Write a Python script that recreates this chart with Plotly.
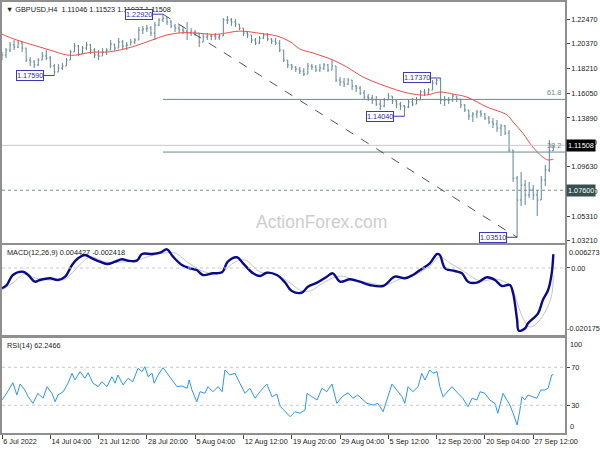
import plotly.graph_objects as go

# ---------------- data ----------------
date_labels = ["6 Jul 2022", "14 Jul 04:00", "21 Jul 12:00", "28 Jul 20:00", "5 Aug 04:00",
               "12 Aug 12:00", "19 Aug 20:00", "29 Aug 04:00", "5 Sep 12:00", "12 Sep 20:00",
               "20 Sep 04:00", "27 Sep 12:00"]
label_bars = [0, 12, 24, 36, 48, 60, 72, 84, 96, 108, 120, 132]

highs = [
    1.1963, 1.1997, 1.2050, 1.2067, 1.2067, 1.2050, 1.1997, 1.1919, 1.1893, 1.1910,
    1.1963, 1.1980, 1.1928, 1.1858, 1.1858, 1.1867, 1.1910, 1.1980, 1.2041, 1.2024,
    1.2015, 1.2050, 1.2032, 1.1997, 1.1980, 1.1997, 1.1997, 1.2067, 1.2032, 1.2084,
    1.2067, 1.2050, 1.2076, 1.2084, 1.2180, 1.2189, 1.2198, 1.2189, 1.2224, 1.2258,
    1.2292, 1.2267, 1.2241, 1.2206, 1.2198, 1.2180, 1.2224, 1.2171, 1.2154, 1.2128,
    1.2119, 1.2128, 1.2119, 1.2128, 1.2119, 1.2258, 1.2276, 1.2258, 1.2250, 1.2206,
    1.2171, 1.2145, 1.2111, 1.2084, 1.2102, 1.2128, 1.2128, 1.2084, 1.2084, 1.2067,
    1.1980, 1.1893, 1.1858, 1.1841, 1.1832, 1.1823, 1.1867, 1.1858, 1.1850, 1.1858,
    1.1867, 1.1858, 1.1893, 1.1841, 1.1745, 1.1736, 1.1736, 1.1719, 1.1676, 1.1667,
    1.1632, 1.1597, 1.1589, 1.1580, 1.1545, 1.1562, 1.1606, 1.1580, 1.1545, 1.1528,
    1.1502, 1.1545, 1.1562, 1.1571, 1.1632, 1.1641, 1.1649, 1.1719, 1.1728, 1.1737,
    1.1580, 1.1571, 1.1597, 1.1580, 1.1554, 1.1510, 1.1458, 1.1441, 1.1458, 1.1458,
    1.1432, 1.1406, 1.1388, 1.1371, 1.1336, 1.1328, 1.1284, 1.1110, 1.0884, 1.0919,
    1.0849, 1.0832, 1.0806, 1.0762, 1.0884, 1.0980, 1.1197, 1.11523]
lows = [
    1.1893, 1.1910, 1.1963, 1.1980, 1.1997, 1.1963, 1.1876, 1.1841, 1.1823, 1.1841,
    1.1893, 1.1893, 1.1823, 1.1759, 1.1789, 1.1806, 1.1841, 1.1893, 1.1963, 1.1928,
    1.1945, 1.1980, 1.1945, 1.1910, 1.1893, 1.1928, 1.1937, 1.1980, 1.1971, 1.1997,
    1.1980, 1.1980, 1.2024, 1.2032, 1.2067, 1.2119, 1.2137, 1.2102, 1.2067, 1.2189,
    1.2224, 1.2198, 1.2171, 1.2137, 1.2128, 1.2119, 1.2067, 1.2102, 1.2102, 1.2006,
    1.2050, 1.2067, 1.2067, 1.2067, 1.2067, 1.2102, 1.2206, 1.2189, 1.2180, 1.2154,
    1.2102, 1.2084, 1.2041, 1.2024, 1.2032, 1.2076, 1.2058, 1.2032, 1.2024, 1.1963,
    1.1876, 1.1823, 1.1806, 1.1789, 1.1771, 1.1754, 1.1771, 1.1806, 1.1789, 1.1789,
    1.1806, 1.1789, 1.1806, 1.1702, 1.1667, 1.1658, 1.1676, 1.1632, 1.1615, 1.1589,
    1.1545, 1.1536, 1.1510, 1.1493, 1.1458, 1.1484, 1.1545, 1.1510, 1.1475, 1.1458,
    1.1404, 1.1475, 1.1493, 1.1510, 1.1545, 1.1580, 1.1589, 1.1632, 1.1676, 1.1510,
    1.1493, 1.1510, 1.1528, 1.1528, 1.1475, 1.1441, 1.1371, 1.1354, 1.1388, 1.1397,
    1.1371, 1.1336, 1.1301, 1.1267, 1.1232, 1.1241, 1.1093, 1.0832, 1.0351, 1.0623,
    1.0632, 1.0692, 1.0675, 1.0536, 1.0675, 1.0797, 1.0919, 1.11027]
closes = [
    1.1937, 1.1980, 1.2024, 1.2006, 1.2041, 1.1997, 1.1893, 1.1876, 1.1850, 1.1893,
    1.1928, 1.1910, 1.1841, 1.1789, 1.1823, 1.1841, 1.1893, 1.1963, 1.2015, 1.1945,
    1.1997, 1.2024, 1.1980, 1.1937, 1.1928, 1.1963, 1.1980, 1.2032, 1.1997, 1.2050,
    1.2015, 1.2024, 1.2050, 1.2067, 1.2154, 1.2163, 1.2171, 1.2128, 1.2198, 1.2241,
    1.2258, 1.2224, 1.2189, 1.2171, 1.2154, 1.2145, 1.2128, 1.2137, 1.2128, 1.2050,
    1.2093, 1.2102, 1.2102, 1.2093, 1.2102, 1.2241, 1.2241, 1.2224, 1.2206, 1.2171,
    1.2128, 1.2111, 1.2067, 1.2041, 1.2084, 1.2111, 1.2076, 1.2058, 1.2041, 1.1980,
    1.1893, 1.1850, 1.1832, 1.1815, 1.1797, 1.1771, 1.1841, 1.1832, 1.1806, 1.1823,
    1.1850, 1.1806, 1.1841, 1.1719, 1.1702, 1.1684, 1.1719, 1.1667, 1.1649, 1.1606,
    1.1571, 1.1562, 1.1545, 1.1510, 1.1493, 1.1545, 1.1580, 1.1536, 1.1510, 1.1493,
    1.1484, 1.1528, 1.1510, 1.1545, 1.1615, 1.1606, 1.1632, 1.1693, 1.1719, 1.1545,
    1.1545, 1.1545, 1.1580, 1.1554, 1.1502, 1.1458, 1.1406, 1.1423, 1.1441, 1.1423,
    1.1388, 1.1354, 1.1336, 1.1301, 1.1319, 1.1258, 1.1110, 1.0866, 1.0675, 1.0806,
    1.0719, 1.0762, 1.0719, 1.0675, 1.0849, 1.0936, 1.11046, 1.11508]

ma_bar = [0, 3.7, 7.7, 11.9, 16.1, 18.6, 21.9, 26.8, 32.5, 36.8, 41.0, 45.0, 49.2, 53.4,
          59.1, 64.1, 68.3, 71.6, 74.0, 77.3, 82.2, 85.7, 89.7, 93.9, 98.1, 102.1, 105.6,
          108.8, 112.0, 115.5, 120.5, 125.5, 127.0, 129.4, 131.9, 134.4, 135.7, 137.0]
ma_val = [1.2117, 1.2067, 1.2024, 1.1980, 1.1937, 1.1937, 1.1960, 1.1965, 1.2009, 1.2061,
          1.2111, 1.2131, 1.2125, 1.2117, 1.2145, 1.2125, 1.2102, 1.2052, 1.1989, 1.1954,
          1.1893, 1.1832, 1.1745, 1.1684, 1.1632, 1.1597, 1.1589, 1.1615, 1.1597, 1.1571,
          1.1484, 1.1415, 1.1354, 1.1258, 1.1136, 1.1049, 1.1023, 1.1032]

macd_bar = [0, 1.2, 2.7, 5.2, 6.5, 8.2, 9.4, 11.9, 13.9, 15.7, 17.4, 18.9, 20.6, 22.4, 24.3,
            26.1, 28.1, 29.8, 31.3, 33.5, 34.8, 37.3, 39.3, 41.0, 42.5, 44.7, 46.7, 48.4,
            49.9, 52.4, 54.7, 56.1, 58.4, 59.9, 62.4, 64.1, 65.8, 68.3, 70.3, 72.0, 74.5,
            76.0, 78.3, 80.7, 82.2, 84.0, 86.5, 88.9, 91.4, 94.7, 97.6, 100.1, 102.1, 103.9,
            106.3, 108.1, 108.8, 110.1, 112.5, 114.3, 115.8, 118.0, 120.5, 122.5, 124.2,
            126.2, 127.0, 128.0, 128.4, 130.0, 130.7, 133.2, 134.4, 135.7, 136.6, 137.0]
macd_val = [-0.00653, -0.00547, -0.00225, -0.00119, -0.00225, -0.00441, -0.00386, -0.00331,
            -0.00386, -0.00280, 0.00097, 0.00312, 0.00418, 0.00312, 0.00203, 0.00129, 0.00203,
            0.00280, 0.00235, 0.00235, 0.00450, 0.00450, 0.00492, 0.00600, 0.00364, 0.00097,
            -0.00010, -0.00064, -0.00225, -0.00171, -0.00138, 0.00203, 0.00344, 0.00151,
            -0.00171, -0.00257, -0.00151, -0.00225, -0.00460, -0.00740, -0.00795, -0.00602,
            -0.00473, -0.00280, -0.00171, -0.00441, -0.00364, -0.00441, -0.00547, -0.00579,
            -0.00280, -0.00331, -0.00225, -0.00064, 0.00151, 0.00450, 0.00418, -0.00010,
            -0.00097, -0.00171, -0.00441, -0.00473, -0.00299, -0.00386, -0.00579, -0.00547,
            -0.00814, -0.01673, -0.02017, -0.01940, -0.01779, -0.01458, -0.01030, -0.00708,
            -0.00171, 0.004427]
signal_bar = [0, 2.7, 5.7, 8.2, 11.9, 15.7, 18.1, 21.9, 25.6, 29.3, 33.0, 36.8, 40.5, 43.0,
              46.7, 50.4, 54.2, 57.9, 60.4, 64.1, 67.8, 71.6, 74.0, 76.5, 80.2, 84.0, 87.7,
              91.4, 95.2, 98.9, 102.6, 106.3, 108.8, 111.3, 115.0, 118.8, 122.5, 125.0, 126.7,
              128.2, 129.7, 131.2, 133.2, 135.2, 136.6, 137.0]
signal_val = [-0.00708, -0.00483, -0.00193, -0.00322, -0.00386, -0.00354, -0.00064, 0.00354,
              0.00193, 0.00193, 0.00225, 0.00386, 0.00483, 0.00483, 0.00129, -0.00129,
              -0.00161, 0.00193, 0.00257, -0.00129, -0.00193, -0.00483, -0.00708, -0.00740,
              -0.00450, -0.00257, -0.00386, -0.00483, -0.00547, -0.00354, -0.00225, 0.00064,
              0.00354, 0.00161, -0.00129, -0.00418, -0.00354, -0.00450, -0.00643, -0.01190,
              -0.01673, -0.01898, -0.01737, -0.01351, -0.00869, -0.002418]

rsi_bar = [0, 1.2, 2.7, 3.7, 4.5, 5.7, 6.5, 7.7, 8.9, 10.2, 11.2, 12.4, 13.2, 13.9, 15.2, 16.4,
           17.4, 18.1, 19.4, 20.6, 21.4, 22.6, 23.9, 24.8, 26.1, 27.3, 28.1, 28.8, 30.1, 31.3,
           32.5, 33.8, 34.8, 35.5, 36.3, 37.3, 37.8, 38.8, 40.0, 41.0, 42.2, 43.5, 44.7, 46.0,
           46.5, 47.2, 48.4, 49.2, 50.4, 51.2, 52.4, 53.7, 54.7, 55.4, 56.6, 57.9, 59.1, 60.4,
           61.6, 62.9, 64.1, 65.8, 67.1, 68.3, 69.1, 70.3, 71.6, 72.8, 74.0, 75.3, 75.8, 77.0,
           78.3, 79.5, 80.7, 82.0, 83.2, 84.5, 86.0, 87.2, 88.4, 90.7, 92.2, 93.4, 94.7, 96.9,
           98.1, 99.4, 100.1, 100.9, 102.1, 103.4, 104.3, 105.1, 106.3, 107.1, 108.1, 108.8,
           109.6, 110.6, 111.8, 113.3, 114.5, 115.8, 116.8, 118.0, 118.8, 120.0, 121.2, 122.5,
           123.2, 124.5, 125.5, 126.2, 127.0, 128.0, 128.7, 129.2, 129.9, 130.7, 131.9, 132.9,
           133.9, 134.9, 135.7, 136.6, 137.0]
rsi_val = [35.6, 43, 53.8, 40.8, 52.4, 46, 39, 32, 42.6, 37.4, 49.6, 42.6, 33.8, 40.8, 44.3,
           53.2, 63.7, 56.6, 65.4, 58.4, 64.3, 53.2, 49.6, 54.8, 49.6, 60.1, 53.2, 61.9, 51.4,
           58.4, 54.8, 68.9, 65.4, 70.6, 60.1, 63.7, 53.2, 61.9, 69.6, 63.7, 56.6, 49.6, 50.3,
           47.9, 56.6, 46.1, 33.8, 44.3, 42.6, 49.6, 44.3, 49.6, 44.3, 67.2, 61.9, 63.7, 53.2,
           42.6, 47.9, 37.4, 44.3, 52.4, 39, 41.9, 29, 23.3, 18, 23.3, 21.6, 25, 42.6, 39, 35.6,
           47.9, 44.3, 52.4, 32, 39, 43.3, 37.4, 40.8, 32, 30.3, 32, 23.3, 52.4, 46.1, 39, 32,
           49.6, 44.3, 49.6, 63.7, 56.6, 67.2, 63.7, 65.4, 49.6, 39, 44.3, 49.6, 42.6, 37.4,
           28.5, 37.4, 35.6, 44.3, 42.6, 35.6, 32, 21.6, 42.6, 35.6, 30.3, 21.6, 9.3, 25, 39,
           35.6, 40.8, 39, 37.4, 46.1, 46.1, 47.9, 61.9, 62.2466]

price_ticks = [1.2247, 1.2037, 1.1821, 1.1605, 1.1389, 1.1173, 1.0963, 1.0747, 1.0531, 1.0321]
price_tick_text = ["1.22470", "1.20370", "1.18210", "1.16050", "1.13890", "1.11730",
                   "1.09630", "1.07470", "1.05310", "1.03210"]

swing_high, swing_high_bar = 1.2292, 40
swing_low, swing_low_bar = 1.0351, 128
support_level = 1.0760
last_price = 1.11508
swing_labels = [(40, 1.2292, "1.22920"), (13, 1.1759, "1.17590"), (100, 1.1404, "1.14040"),
                (109, 1.1737, "1.17370"), (128, 1.0351, "1.03510")]

# ---------------- figure ----------------
n = len(closes)
bars = list(range(n))
opens = [closes[0]] + closes[:-1]
XMAX = 139.9
FONT = "Liberation Sans, Arial, sans-serif"
BAR = "#5d8499"
FRAME = "#8f8f8f"

fig = go.Figure()
fig.add_trace(go.Ohlc(x=bars, open=opens, high=highs, low=lows, close=closes,
                      increasing=dict(line=dict(color=BAR, width=1)),
                      decreasing=dict(line=dict(color=BAR, width=1)),
                      tickwidth=0.3, hoverinfo="skip", xaxis="x", yaxis="y"))
fig.add_trace(go.Scatter(x=ma_bar, y=ma_val, mode="lines", hoverinfo="skip",
                         line=dict(color="#f24b4b", width=1, shape="spline"), xaxis="x", yaxis="y"))
fig.add_trace(go.Scatter(x=signal_bar, y=signal_val, mode="lines", hoverinfo="skip",
                         line=dict(color="#c4c4c4", width=1, shape="spline"), xaxis="x2", yaxis="y2"))
fig.add_trace(go.Scatter(x=macd_bar, y=macd_val, mode="lines", hoverinfo="skip",
                         line=dict(color="#0a0a8c", width=2.4, shape="spline"), xaxis="x2", yaxis="y2"))
fig.add_trace(go.Scatter(x=rsi_bar, y=rsi_val, mode="lines", hoverinfo="skip",
                         line=dict(color="#2b95ff", width=1), xaxis="x3", yaxis="y3"))

fib618 = swing_low + 0.618 * (swing_high - swing_low)
fib382 = swing_low + 0.382 * (swing_high - swing_low)

shapes = [
    dict(type="line", xref="x", yref="y", x0=0, x1=XMAX, y0=last_price, y1=last_price,
         line=dict(color="#c8c8c8", width=1)),
    dict(type="line", xref="x", yref="y", x0=swing_high_bar, x1=XMAX, y0=fib618, y1=fib618,
         line=dict(color="#6f8787", width=1)),
    dict(type="line", xref="x", yref="y", x0=swing_high_bar, x1=XMAX, y0=fib382, y1=fib382,
         line=dict(color="#6f8787", width=1)),
    dict(type="line", xref="x", yref="y", x0=0, x1=XMAX, y0=support_level, y1=support_level,
         line=dict(color="#7b8e8e", width=1, dash="dot")),
    dict(type="line", xref="x", yref="y", x0=swing_high_bar, x1=swing_low_bar,
         y0=swing_high, y1=swing_low, line=dict(color="#555555", width=1, dash="dash")),
    dict(type="line", xref="x2", yref="y2", x0=0, x1=XMAX, y0=0, y1=0,
         line=dict(color="#c8c8c8", width=1, dash="dot")),
    dict(type="line", xref="x3", yref="y3", x0=0, x1=XMAX, y0=70, y1=70,
         line=dict(color="#c8c8c8", width=1, dash="dot")),
    dict(type="line", xref="x3", yref="y3", x0=0, x1=XMAX, y0=30, y1=30,
         line=dict(color="#c8c8c8", width=1, dash="dot")),
]

small = dict(family=FONT, size=7.3, color="#222222")
ann = [
    dict(xref="paper", yref="paper", x=0, y=1, xanchor="left", yanchor="top", xshift=2, yshift=-1,
         text="▼ GBPUSD,H4  1.11046 1.11523 1.11027 1.11508", showarrow=False, font=small),
    dict(xref="paper", yref="paper", x=0.568, y=0.4896, text="ActionForex.com", showarrow=False,
         font=dict(family=FONT, size=17.5, color="#cdcdcd")),
    dict(xref="x", yref="y", x=XMAX, y=fib618, xanchor="right", yanchor="bottom", xshift=-2,
         text="61.8", showarrow=False, font=dict(family=FONT, size=7.3, color="#6f8787")),
    dict(xref="x", yref="y", x=XMAX, y=fib382, xanchor="right", yanchor="bottom", xshift=-2,
         text="38.2", showarrow=False, font=dict(family=FONT, size=7.3, color="#6f8787")),
    dict(xref="paper", yref="y", x=1, y=last_price, xanchor="left", xshift=1, text="1.11508",
         showarrow=False, bgcolor="#000000", borderpad=1,
         font=dict(family=FONT, size=7.3, color="#ffffff")),
    dict(xref="paper", yref="y", x=1, y=support_level, xanchor="left", xshift=1, text="1.07600",
         showarrow=False, bgcolor="#34504f", borderpad=1,
         font=dict(family=FONT, size=7.3, color="#ffffff")),
    dict(xref="x2 domain", yref="y2 domain", x=0, y=1, xanchor="left", yanchor="top", xshift=3,
         yshift=-1, text="MACD(12,26,9) 0.004427 -0.002418", showarrow=False, font=small),
    dict(xref="x3 domain", yref="y3 domain", x=0, y=1, xanchor="left", yanchor="top", xshift=3,
         yshift=-1, text="RSI(14) 62.2466", showarrow=False, font=small),
    dict(xref="paper", yref="y2 domain", x=1, y=1, xanchor="left", yanchor="top", xshift=2,
         yshift=-1, text="0.006273", showarrow=False, font=small),
    dict(xref="paper", yref="y2 domain", x=1, y=0, xanchor="left", yanchor="bottom", xshift=0,
         yshift=0, text="-0.020175", showarrow=False, font=small),
    dict(xref="paper", yref="y3 domain", x=1, y=1, xanchor="left", yanchor="top", xshift=3,
         text="100", showarrow=False, font=small),
    dict(xref="paper", yref="y3 domain", x=1, y=0, xanchor="left", yanchor="bottom", xshift=3,
         text="0", showarrow=False, font=small),
]
for bx, py, txt in swing_labels:
    ann.append(dict(xref="x", yref="y", x=bx, y=py, text=txt, showarrow=True, arrowhead=0,
                    arrowwidth=1, arrowcolor="#3a3ab4", ax=-24, ay=0, standoff=0,
                    bgcolor="#ffffff", bordercolor="#3a3ab4", borderwidth=1, borderpad=0,
                    font=dict(family=FONT, size=7.3, color="#3030b0")))

axis_common = dict(showgrid=False, zeroline=False, showline=True, mirror=True,
                   linecolor=FRAME, linewidth=1.5, automargin=False)
fig.update_layout(
    width=600, height=450, margin=dict(l=2, r=35, t=2, b=17, autoexpand=False),
    paper_bgcolor="#ffffff", plot_bgcolor="#ffffff", showlegend=False,
    font=dict(family=FONT, size=7.3, color="#222222"),
    xaxis=dict(domain=[0, 1], range=[0, XMAX], anchor="y", showticklabels=False, ticks="",
               rangeslider=dict(visible=False), **axis_common),
    xaxis2=dict(domain=[0, 1], range=[0, XMAX], anchor="y2", matches="x", showticklabels=False,
                ticks="", **axis_common),
    xaxis3=dict(domain=[0, 1], range=[0, XMAX], anchor="y3", matches="x", tickvals=label_bars,
                ticktext=date_labels, ticks="outside", ticklen=4, tickcolor="#444444",
                tickangle=0, ticklabelposition="outside right", tickfont=small, **axis_common),
    yaxis=dict(domain=[0.4408, 1], range=[1.0301, 1.2398], side="right", anchor="x",
               tickvals=price_ticks, ticktext=price_tick_text, ticks="outside", ticklen=3,
               tickcolor="#444444", tickfont=small, **axis_common),
    yaxis2=dict(domain=[0.2274, 0.4362], range=[-0.02156, 0.0074], side="right", anchor="x2",
                tickvals=[0], ticktext=["0.00"], ticks="outside", ticklen=3, tickcolor="#444444",
                tickfont=small, **axis_common),
    yaxis3=dict(domain=[0, 0.2204], range=[0.84, 100.8], side="right", anchor="x3",
                tickvals=[30, 70], ticktext=["30", "70"], ticks="outside", ticklen=3,
                tickcolor="#444444", tickfont=small, **axis_common),
    shapes=shapes, annotations=ann,
)

fig.write_html("out.html", config={"displayModeBar": False},
               post_script="document.body.style.margin='0';document.body.style.overflow='hidden';")
